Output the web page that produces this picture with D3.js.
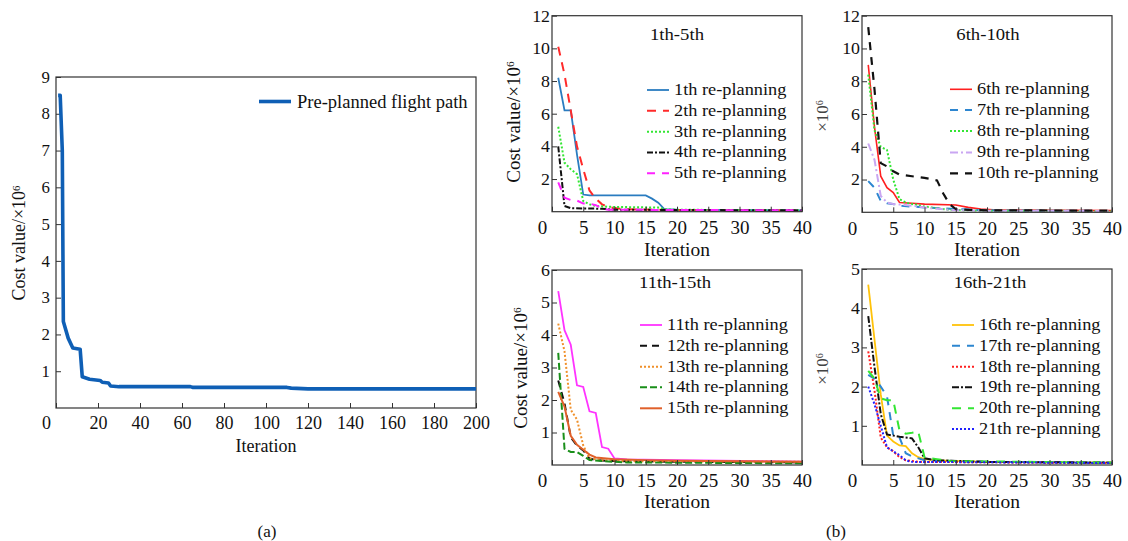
<!DOCTYPE html>
<html lang="en">
<head>
<meta charset="UTF-8">
<title>Cost value vs iteration</title>
<script src="https://d3js.org/d3.v7.min.js"></script>
<style>
  body { margin: 0; background: #fff; }
  svg text { font-family: "Liberation Serif", "Times New Roman", serif; fill: #111; }
</style>
</head>
<body>
<svg id="chart" width="1128" height="541"></svg>
<script>
// ---- data (iteration, cost value x10^6) ----
const preplanned = [[1,8.5],[2,8.5],[3,7.0],[3.5,2.35],[5.8,1.9],[8,1.63],[11.5,1.6],[12.5,0.85],[16,0.78],[21,0.75],[22,0.7],[25,0.68],[26,0.6],[30,0.58],[64,0.58],[65,0.56],[110,0.56],[112,0.54],[120,0.52],[200,0.52]];

const rp1 = [[1,8.2],[2,6.2],[3,6.2],[4,3.5],[5,1.05],[6,1.0],[15,1.0],[16,0.8],[17,0.55],[18,0.15],[20,0.12],[40,0.08]];
const rp2 = [[1,10.1],[2,8.4],[3,6.2],[4,4.0],[5,2.6],[6,1.3],[7,0.8],[8,0.45],[9,0.3],[10,0.22],[12,0.15],[20,0.1],[40,0.08]];
const rp3 = [[1,5.2],[2,3.0],[3,2.6],[4,2.3],[5,0.65],[6,0.45],[7,0.35],[9,0.3],[17,0.25],[18,0.15],[20,0.12],[40,0.08]];
const rp4 = [[1,4.0],[2,0.35],[3,0.22],[5,0.2],[8,0.18],[10,0.12],[40,0.08]];
const rp5 = [[1,1.8],[2,0.85],[3,0.72],[4,0.68],[5,0.5],[6,0.5],[7,0.4],[8,0.2],[9,0.12],[40,0.08]];

const rp6 = [[1,9.0],[2,5.2],[3,2.2],[4,1.5],[5,1.2],[6,0.6],[8,0.55],[10,0.5],[15,0.45],[17,0.3],[19,0.2],[21,0.15],[40,0.1]];
const rp7 = [[1,1.9],[2,1.5],[3,0.7],[4,0.55],[5,0.5],[6,0.4],[8,0.35],[10,0.3],[15,0.2],[20,0.12],[40,0.08]];
const rp8 = [[1,8.4],[2,5.0],[3,4.0],[4,3.8],[5,2.0],[6,0.8],[7,0.6],[8,0.5],[9,0.45],[10,0.35],[12,0.25],[14,0.15],[20,0.1],[40,0.08]];
const rp9 = [[1,4.2],[2,3.2],[3,1.0],[4,0.6],[5,0.5],[7,0.45],[9,0.35],[11,0.25],[14,0.15],[20,0.1],[40,0.08]];
const rp10 = [[1,11.3],[2,7.5],[3,3.0],[4,2.8],[5,2.5],[6,2.3],[8,2.2],[10,2.1],[12,1.95],[13,1.15],[14,0.5],[15,0.2],[17,0.15],[20,0.12],[40,0.1]];

const rp11 = [[1,5.35],[2,4.15],[3,3.7],[4,2.45],[5,2.4],[6,1.65],[7,1.6],[8,0.55],[9,0.5],[10,0.2],[12,0.17],[20,0.15],[40,0.1]];
const rp12 = [[1,2.6],[2,1.9],[3,0.85],[4,0.6],[5,0.45],[6,0.2],[7,0.15],[10,0.12],[20,0.1],[40,0.08]];
const rp13 = [[1,4.35],[2,3.5],[3,1.7],[4,1.4],[5,0.6],[6,0.2],[8,0.15],[12,0.12],[40,0.1]];
const rp14 = [[1,3.45],[2,0.5],[3,0.4],[4,0.4],[5,0.28],[6,0.15],[8,0.12],[12,0.08],[40,0.05]];
const rp15 = [[1,2.25],[2,1.8],[3,0.9],[4,0.62],[5,0.47],[6,0.32],[7,0.23],[10,0.18],[15,0.15],[20,0.13],[40,0.1]];

const rp16 = [[1,4.6],[2,3.2],[3,1.8],[4,0.75],[5,0.6],[6,0.5],[7,0.48],[8,0.3],[9,0.2],[10,0.15],[12,0.12],[20,0.08],[40,0.06]];
const rp17 = [[1,2.3],[2,2.2],[3,2.0],[4,1.75],[5,0.75],[6,0.7],[7,0.3],[8,0.22],[10,0.12],[20,0.08],[40,0.06]];
const rp18 = [[1,2.9],[2,1.9],[3,0.7],[4,0.45],[5,0.35],[6,0.2],[7,0.12],[9,0.08],[40,0.05]];
const rp19 = [[1,3.8],[2,2.5],[3,1.3],[4,0.78],[5,0.75],[6,0.72],[7,0.7],[8,0.68],[9,0.45],[10,0.17],[12,0.12],[20,0.08],[40,0.06]];
const rp20 = [[1,2.4],[2,2.2],[3,1.7],[4,1.65],[5,1.65],[6,0.88],[7,0.8],[8,0.82],[9,0.85],[10,0.2],[11,0.17],[12,0.15],[14,0.1],[40,0.06]];
const rp21 = [[1,2.0],[2,1.55],[3,1.0],[4,0.45],[5,0.35],[6,0.25],[7,0.12],[8,0.08],[40,0.05]];

const ticksA_x = [0,20,40,60,80,100,120,140,160,180,200];
const ticksA_y = [1,2,3,4,5,6,7,8,9];
const ticksB_x = [0,5,10,15,20,25,30,35,40];

const svg = d3.select("#chart");

// stretch text horizontally around its anchor point (the source figure is squashed)
function stretch(sel, s) {
  sel.each(function() {
    const t = d3.select(this);
    const x = +t.attr("x") || 0;
    t.attr("transform", "translate(" + (x * (1 - s)) + ",0) scale(" + s + ",1)");
  });
}

function ylabel(g, x, y, main, size, color) {
  const t = g.append("text")
    .attr("transform", "translate(" + x + "," + y + ") rotate(-90)")
    .attr("text-anchor", "middle")
    .style("font-size", size + "px")
    .style("fill", color || "#111");
  t.append("tspan").text(main + "\u00d710");
  t.append("tspan").attr("dy", "-0.5em").style("font-size", "0.6em").text("6");
}

// frame + inward ticks on left/bottom
function frame(g, x, y, o) {
  const w = x.range()[1] - x.range()[0], h = y.range()[0] - y.range()[1];
  const xa = g.append("g")
    .attr("transform", "translate(0," + y.range()[0] + ")")
    .call(d3.axisBottom(x).tickValues(o.xticks).tickFormat(d3.format("d"))
      .tickSizeInner(-5).tickSizeOuter(0).tickPadding(o.xpad));
  xa.selectAll("text").style("font-size", o.xfont + "px")
    .attr("x", d => d === 0 ? -10 : 0);
  const ya = g.append("g")
    .attr("transform", "translate(" + x.range()[0] + ",0)")
    .call(d3.axisLeft(y).tickValues(o.yticks).tickFormat(d3.format("d"))
      .tickSizeInner(-5).tickSizeOuter(0).tickPadding(o.ypad));
  ya.selectAll("text").style("font-size", o.yfont + "px");
  stretch(ya.selectAll("text"), o.ystretch);
  g.selectAll(".domain").remove();
  g.selectAll(".tick line").attr("stroke", "#333");
  g.append("rect")
    .attr("x", x.range()[0]).attr("y", y.range()[1])
    .attr("width", w).attr("height", h)
    .attr("fill", "none").attr("stroke", "#333").attr("stroke-width", 1.2);
}

// ---- panel (a) ----
{
  const g = svg.append("g");
  const x = d3.scaleLinear().domain([0, 200]).range([56, 476]);
  const y = d3.scaleLinear().domain([0, 9]).range([408, 77]);
  frame(g, x, y, {xticks: ticksA_x, yticks: ticksA_y, xfont: 18, yfont: 16, xpad: 8, ypad: 6, ystretch: 1.05});

  g.append("path")
    .datum(preplanned)
    .attr("fill", "none")
    .attr("stroke", "#0f5fb5")
    .attr("stroke-width", 3.6)
    .attr("stroke-linejoin", "round")
    .attr("d", d3.line().x(d => x(d[0])).y(d => y(d[1])));

  g.append("line").attr("x1", 259).attr("x2", 291).attr("y1", 101.5).attr("y2", 101.5)
    .attr("stroke", "#0f5fb5").attr("stroke-width", 3.6);
  g.append("text").attr("x", 297).attr("y", 108).style("font-size", "18.5px").text("Pre-planned flight path");

  g.append("text").attr("x", 266).attr("y", 452).attr("text-anchor", "middle")
    .style("font-size", "18px").text("Iteration");
  ylabel(g, 25, 243, "Cost value/", 18);
  g.append("text").attr("x", 267).attr("y", 537).attr("text-anchor", "middle")
    .style("font-size", "17px").text("(a)");
}

// ---- panels (b) ----
const panels = [
  {x0: 552, x1: 802, top: 15.7, bottom: 211.7, ymax: 12, yticks: [2,4,6,8,10,12],
   title: "1th-5th", tx: 677, ty: 40, ylab: "Cost value/", ylx: 520, yly: 122, ylsize: 19,
   legX: 647, legY: [90, 110.7, 131.7, 152.5, 173.3], iterY: 256,
   series: [
     {name: "1th re-planning", data: rp1, color: "#2a7cc0", dash: null, w: 1.8},
     {name: "2th re-planning", data: rp2, color: "#ff2a2a", dash: "9,7", w: 2},
     {name: "3th re-planning", data: rp3, color: "#33e633", dash: "2,2", w: 2},
     {name: "4th re-planning", data: rp4, color: "#111111", dash: "6,2,2,2", w: 2},
     {name: "5th re-planning", data: rp5, color: "#ff22ff", dash: "8,7", w: 2}
   ]},
  {x0: 862, x1: 1112, top: 15.7, bottom: 212.3, ymax: 12, yticks: [2,4,6,8,10,12],
   title: "6th-10th", tx: 988, ty: 40, ylab: "", ylx: 828, yly: 116, ylsize: 17, ylcolor: "#444",
   legX: 950, legY: [89.3, 110, 131, 152.5, 173.3], iterY: 256,
   series: [
     {name: "6th re-planning", data: rp6, color: "#ff2020", dash: null, w: 1.6},
     {name: "7th re-planning", data: rp7, color: "#2d86d0", dash: "8,7", w: 2},
     {name: "8th re-planning", data: rp8, color: "#33e633", dash: "2,2", w: 2},
     {name: "9th re-planning", data: rp9, color: "#c9a6f2", dash: "8,3,2,3", w: 2},
     {name: "10th re-planning", data: rp10, color: "#111111", dash: "8,7", w: 2.2}
   ]},
  {x0: 552, x1: 802, top: 270, bottom: 465, ymax: 6, yticks: [1,2,3,4,5,6],
   title: "11th-15th", tx: 675, ty: 288, ylab: "Cost value/", ylx: 527, yly: 368, ylsize: 19,
   legX: 640, legY: [325, 345.7, 366.7, 387.3, 408.3], iterY: 508,
   series: [
     {name: "11th re-planning", data: rp11, color: "#ff33ff", dash: null, w: 1.8},
     {name: "12th re-planning", data: rp12, color: "#111111", dash: "7,5", w: 2},
     {name: "13th re-planning", data: rp13, color: "#f0902a", dash: "2,2", w: 2},
     {name: "14th re-planning", data: rp14, color: "#1a8f1a", dash: "7,3", w: 2},
     {name: "15th re-planning", data: rp15, color: "#e0602a", dash: null, w: 2}
   ]},
  {x0: 862, x1: 1112, top: 269, bottom: 465, ymax: 5, yticks: [1,2,3,4,5],
   title: "16th-21th", tx: 990, ty: 288, ylab: "", ylx: 828, yly: 369, ylsize: 17, ylcolor: "#444",
   legX: 952, legY: [325, 345.7, 366.7, 387.3, 408.3, 429], iterY: 508,
   series: [
     {name: "16th re-planning", data: rp16, color: "#ffc20a", dash: null, w: 1.8},
     {name: "17th re-planning", data: rp17, color: "#2d86d0", dash: "8,7", w: 2},
     {name: "18th re-planning", data: rp18, color: "#ff2020", dash: "2,2", w: 2},
     {name: "19th re-planning", data: rp19, color: "#111111", dash: "7,2,2,2", w: 2},
     {name: "20th re-planning", data: rp20, color: "#33e633", dash: "9,7", w: 2},
     {name: "21th re-planning", data: rp21, color: "#2020ff", dash: "2,2", w: 2}
   ]}
];

panels.forEach((p, i) => {
  const g = svg.append("g");
  const x = d3.scaleLinear().domain([0, 40]).range([p.x0, p.x1]);
  const y = d3.scaleLinear().domain([0, p.ymax]).range([p.bottom, p.top]);

  svg.append("clipPath").attr("id", "clip" + i)
    .append("rect").attr("x", p.x0).attr("y", p.top).attr("width", p.x1 - p.x0).attr("height", p.bottom - p.top);

  const line = d3.line().x(d => x(d[0])).y(d => y(d[1]));
  g.append("g").attr("clip-path", "url(#clip" + i + ")")
    .selectAll("path").data(p.series).join("path")
    .attr("fill", "none")
    .attr("stroke", d => d.color)
    .attr("stroke-width", d => d.w)
    .attr("stroke-dasharray", d => d.dash)
    .attr("d", d => line(d.data));

  frame(g, x, y, {xticks: ticksB_x, yticks: p.yticks, xfont: 19, yfont: 17, xpad: 9, ypad: 2, ystretch: 1.05});

  const t = g.append("text").attr("x", p.tx).attr("y", p.ty).attr("text-anchor", "middle")
    .style("font-size", "17px").text(p.title);
  stretch(t, 1.1);

  const leg = g.selectAll(".leg").data(p.series).join("g").attr("class", "leg");
  leg.append("line")
    .attr("x1", p.legX).attr("x2", p.legX + 22)
    .attr("y1", (d, k) => p.legY[k]).attr("y2", (d, k) => p.legY[k])
    .attr("stroke", d => d.color).attr("stroke-width", d => d.w)
    .attr("stroke-dasharray", d => d.dash);
  const lt = leg.append("text")
    .attr("x", p.legX + 27).attr("y", (d, k) => p.legY[k] + 5)
    .style("font-size", "16px").text(d => d.name);
  stretch(lt, 1.145);

  g.append("text").attr("x", (p.x0 + p.x1) / 2).attr("y", p.iterY).attr("text-anchor", "middle")
    .style("font-size", "19.5px").text("Iteration");
  ylabel(g, p.ylx, p.yly, p.ylab, p.ylsize, p.ylcolor);
});

svg.append("text").attr("x", 836).attr("y", 537).attr("text-anchor", "middle")
  .style("font-size", "17px").text("(b)");
</script>
</body>
</html>
